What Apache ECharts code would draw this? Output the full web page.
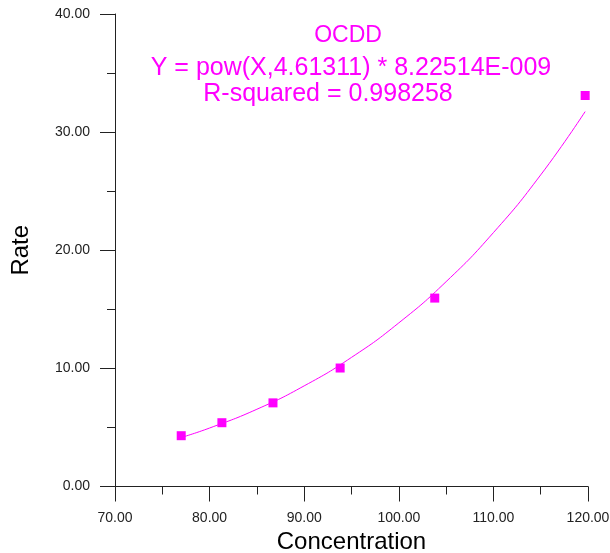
<!DOCTYPE html>
<html>
<head>
<meta charset="utf-8">
<script src="https://cdn.jsdelivr.net/npm/echarts@6/dist/echarts.min.js"></script>
<style>
  html, body { margin: 0; padding: 0; background: #fff; }
  #chart { width: 610px; height: 553px; }
</style>
</head>
<body>
<div id="chart"></div>
<script>
// measured points (Concentration, Rate)
const concentration = [77.0, 81.3, 86.7, 93.8, 103.8, 119.7];
const rate = [4.30, 5.40, 7.08, 10.03, 15.95, 33.10];

// fitted curve
const fitX = [77, 80, 85, 90, 95, 100, 105, 110, 115, 119.7];
const fitY = [4.15, 4.95, 6.54, 8.52, 10.93, 13.85, 17.34, 21.49, 26.38, 31.74];

const titleLines = [
  { text: "OCDD", x: 348, y: 36, size: 23 },
  { text: "Y = pow(X,4.61311) * 8.22514E-009", x: 351, y: 68, size: 25 },
  { text: "R-squared = 0.998258", x: 328, y: 94, size: 25 }
];

const magenta = "#ff00ff";
const axisColor = "#222";
const fontFamily = "'Liberation Sans', Arial, sans-serif";

const chart = echarts.init(document.getElementById("chart"));

function axisBase() {
  return {
    axisLine: { show: true, lineStyle: { color: axisColor, width: 1 } },
    axisTick: { show: true, inside: false, length: 15, lineStyle: { color: axisColor } },
    minorTick: { show: true, splitNumber: 2, length: 8, lineStyle: { color: axisColor } },
    splitLine: { show: false },
    axisLabel: {
      color: axisColor,
      fontSize: 14,
      fontFamily: fontFamily,
      margin: 25,
      formatter: (v) => v.toFixed(2)
    },
    nameTextStyle: { color: "#000", fontSize: 24, fontFamily: fontFamily }
  };
}

chart.setOption({
  backgroundColor: "#fff",
  animation: false,
  grid: { left: 115, right: 22, top: 14, bottom: 66.5, containLabel: false, outerBoundsMode: "none" },
  xAxis: Object.assign(axisBase(), {
    type: "value",
    min: 70,
    max: 120,
    interval: 10,
    name: "Concentration",
    nameLocation: "middle",
    nameGap: 40
  }),
  yAxis: Object.assign(axisBase(), {
    type: "value",
    min: 0,
    max: 40,
    interval: 10,
    name: "Rate",
    nameLocation: "middle",
    nameRotate: 90,
    nameGap: 82
  }),
  graphic: titleLines.map((line) => ({
    type: "text",
    x: line.x,
    y: line.y,
    style: {
      text: line.text,
      fill: magenta,
      fontSize: line.size,
      fontFamily: fontFamily,
      align: "center",
      verticalAlign: "middle"
    }
  })),
  series: [
    {
      name: "fit",
      type: "line",
      data: fitX.map((x, i) => [x, fitY[i]]),
      smooth: true,
      showSymbol: false,
      lineStyle: { color: magenta, width: 1 },
      z: 2
    },
    {
      name: "data",
      type: "scatter",
      data: concentration.map((x, i) => [x, rate[i]]),
      symbol: "rect",
      symbolSize: 9,
      itemStyle: { color: magenta, opacity: 1 },
      z: 3
    }
  ]
});
</script>
</body>
</html>
